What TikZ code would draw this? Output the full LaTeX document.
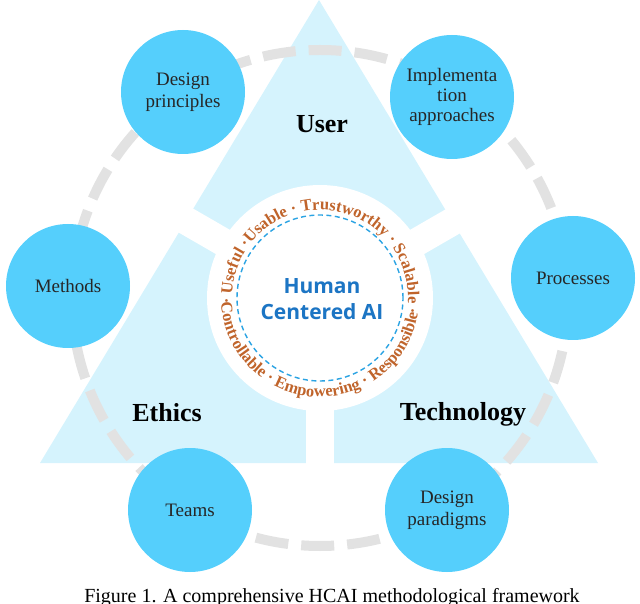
\documentclass[tikz,border=0pt]{standalone}
\usepackage{fontspec}
\setmainfont{Liberation Serif}
\newfontfamily\hcaisans{Open Sans}
\usetikzlibrary{decorations.text}
\definecolor{tri}{HTML}{D5F3FD}
\definecolor{bub}{HTML}{55CFFC}
\definecolor{ringc}{HTML}{C0642B}
\definecolor{hcai}{HTML}{1C75C4}
\definecolor{dashblue}{HTML}{2AA3E3}
\definecolor{grayring}{HTML}{E2E2E2}
\newcommand\ringfont{\fontsize{16.5}{16.5}\selectfont\bfseries}
\begin{document}
\begin{tikzpicture}[x=1pt,y=1pt,
  bubble/.style={circle, fill=bub, minimum size=124pt, inner sep=0pt, align=center,
    font=\fontsize{19}{22}\selectfont, text=black!85},
  pillar/.style={font=\fontsize{26}{26}\selectfont\bfseries, text=black},
  gapband/.style={white, line width=28pt},
  ringtext/.style={decorate, decoration={text along path, text align=center, text color=ringc, text={#1}}}]
\useasboundingbox (0,0) rectangle (640,603);
\clip (0,0) rectangle (640,603);
\coordinate (C) at (320,305);
% big triangle
\fill[tri] (319,603) -- (40,140) -- (598,140) -- cycle;
\draw[gapband] (C) -- ++(150:260);
\draw[gapband] (C) -- ++(30:260);
\draw[gapband] (C) -- ++(270:260);
\fill[white] (C) circle[radius=113];
% gray dashed ring
\draw[grayring, line width=10pt, dash pattern=on 33pt off 13pt] (C) circle[radius=248];
% inner dashed circle
\draw[dashblue, line width=1.4pt, dash pattern=on 5pt off 3.5pt] (C) circle[radius=83];
% ring text
\path[ringtext={|\ringfont|· Useful ·Usable · Trustworthy · Scalable ·}] (C) ++(197:88) arc[start angle=197, end angle=-23, radius=88];
\path[ringtext={|\ringfont|Controllable · Empowering · Responsible}] (C) ++(170:99) arc[start angle=170, end angle=364, radius=99];
\node[font=\hcaisans\bfseries\fontsize{21}{26}\selectfont, text=hcai, align=center] (hc) at (322,304) {Human\\Centered AI};
% pillars
\node[pillar] (user) at (322,479) {User};
\node[pillar] (eth) at (167,190) {Ethics};
\node[pillar] (tech) at (463,189) {Technology};
% bubbles
\node[bubble] (dp) at (183,511) {Design\\principles};
\node[bubble, font=\fontsize{19}{20}\selectfont] (ia) at (452,506) {Implementa\\tion\\approaches};
\node[bubble] (me) at (68,317) {Methods};
\node[bubble] (pr) at (573,325) {Processes};
\node[bubble] (te) at (190,93) {Teams};
\node[bubble] (pa) at (447,93) {Design\\paradigms};
% caption
\node[anchor=base, font=\fontsize{20}{20}\selectfont, inner sep=0pt] (cap) at (332,1) {Figure 1. A comprehensive HCAI methodological framework};
\end{tikzpicture}
\end{document}
